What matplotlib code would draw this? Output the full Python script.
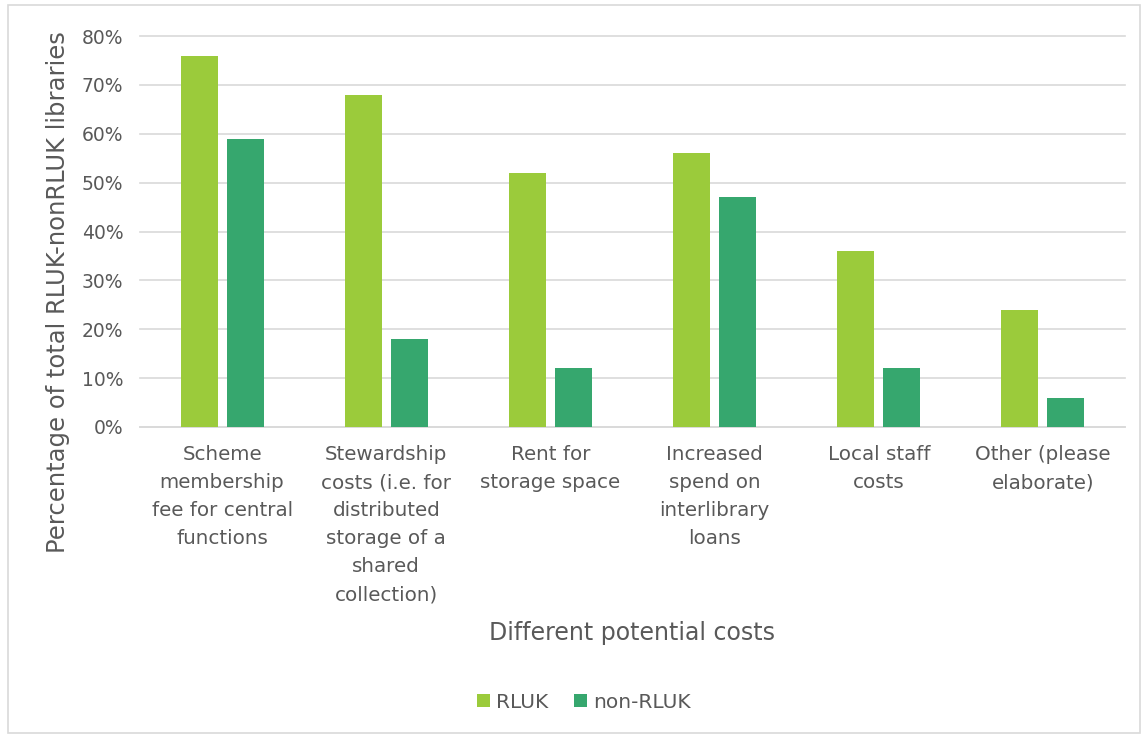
import matplotlib.pyplot as plt
import numpy as np
from matplotlib.patches import Rectangle

categories = ['Scheme\nmembership\nfee for central\nfunctions',
              'Stewardship\ncosts (i.e. for\ndistributed\nstorage of a\nshared\ncollection)',
              'Rent for\nstorage space',
              'Increased\nspend on\ninterlibrary\nloans',
              'Local staff\ncosts',
              'Other (please\nelaborate)']
rluk = [76, 68, 52, 56, 36, 24]
non_rluk = [59, 18, 12, 47, 12, 6]
series_names = ['RLUK', 'non-RLUK']

C_RLUK = '#9BCB3B'
C_NON = '#36A76E'
TXT = '#595959'

plt.rcParams['font.family'] = ['DejaVu Sans']

fig = plt.figure(figsize=(11.45, 7.38), dpi=100)
# outer chart border
fig.patches.append(Rectangle((8 / 1145, 5 / 738), 1132 / 1145, 728 / 738, transform=fig.transFigure,
                             fill=False, edgecolor='#D9D9D9', lw=1.2))
ax = fig.add_axes([140 / 1145, 1 - 427 / 738, 985 / 1145, 391 / 738])

x = np.arange(len(categories))
w = 0.225
ax.bar(x - 0.14, rluk, w, color=C_RLUK, label=series_names[0], zorder=3)
ax.bar(x + 0.14, non_rluk, w, color=C_NON, label=series_names[1], zorder=3)

ax.set_xlim(-0.5, len(categories) - 0.5)
ax.set_ylim(0, 80)
ax.set_yticks(range(0, 81, 10))
ax.set_yticklabels([f'{v}%' for v in range(0, 81, 10)], fontsize=13.5, color=TXT)
ax.set_xticks(x)
ax.set_xticklabels(categories, fontsize=14.3, color=TXT, linespacing=1.6)
ax.tick_params(axis='both', length=0)
ax.tick_params(axis='x', pad=13)
ax.tick_params(axis='y', pad=12)
ax.yaxis.grid(True, color='#D9D9D9', lw=1.2, zorder=0)
for gl in ax.get_ygridlines():
    gl.set_clip_on(False)
for s in ['top', 'right', 'left']:
    ax.spines[s].set_visible(False)
ax.spines['bottom'].set_color('#D9D9D9')
ax.spines['bottom'].set_linewidth(1.2)

fig.text(58 / 1145, 1 - 292 / 738, 'Percentage of total RLUK-nonRLUK libraries', fontsize=17.5,
         color=TXT, rotation=90, ha='center', va='center')
fig.text(632 / 1145, 1 - 633 / 738, 'Different potential costs', fontsize=17, color=TXT,
         ha='center', va='center')

leg = fig.legend(loc='center', bbox_to_anchor=(584 / 1145, 1 - 702 / 738), ncol=2, frameon=False,
                 fontsize=14.5, handlelength=0.65, handleheight=0.65, handletextpad=0.3, columnspacing=1.3)
for t in leg.get_texts():
    t.set_color(TXT)

fig.savefig('out.png', dpi=100)
